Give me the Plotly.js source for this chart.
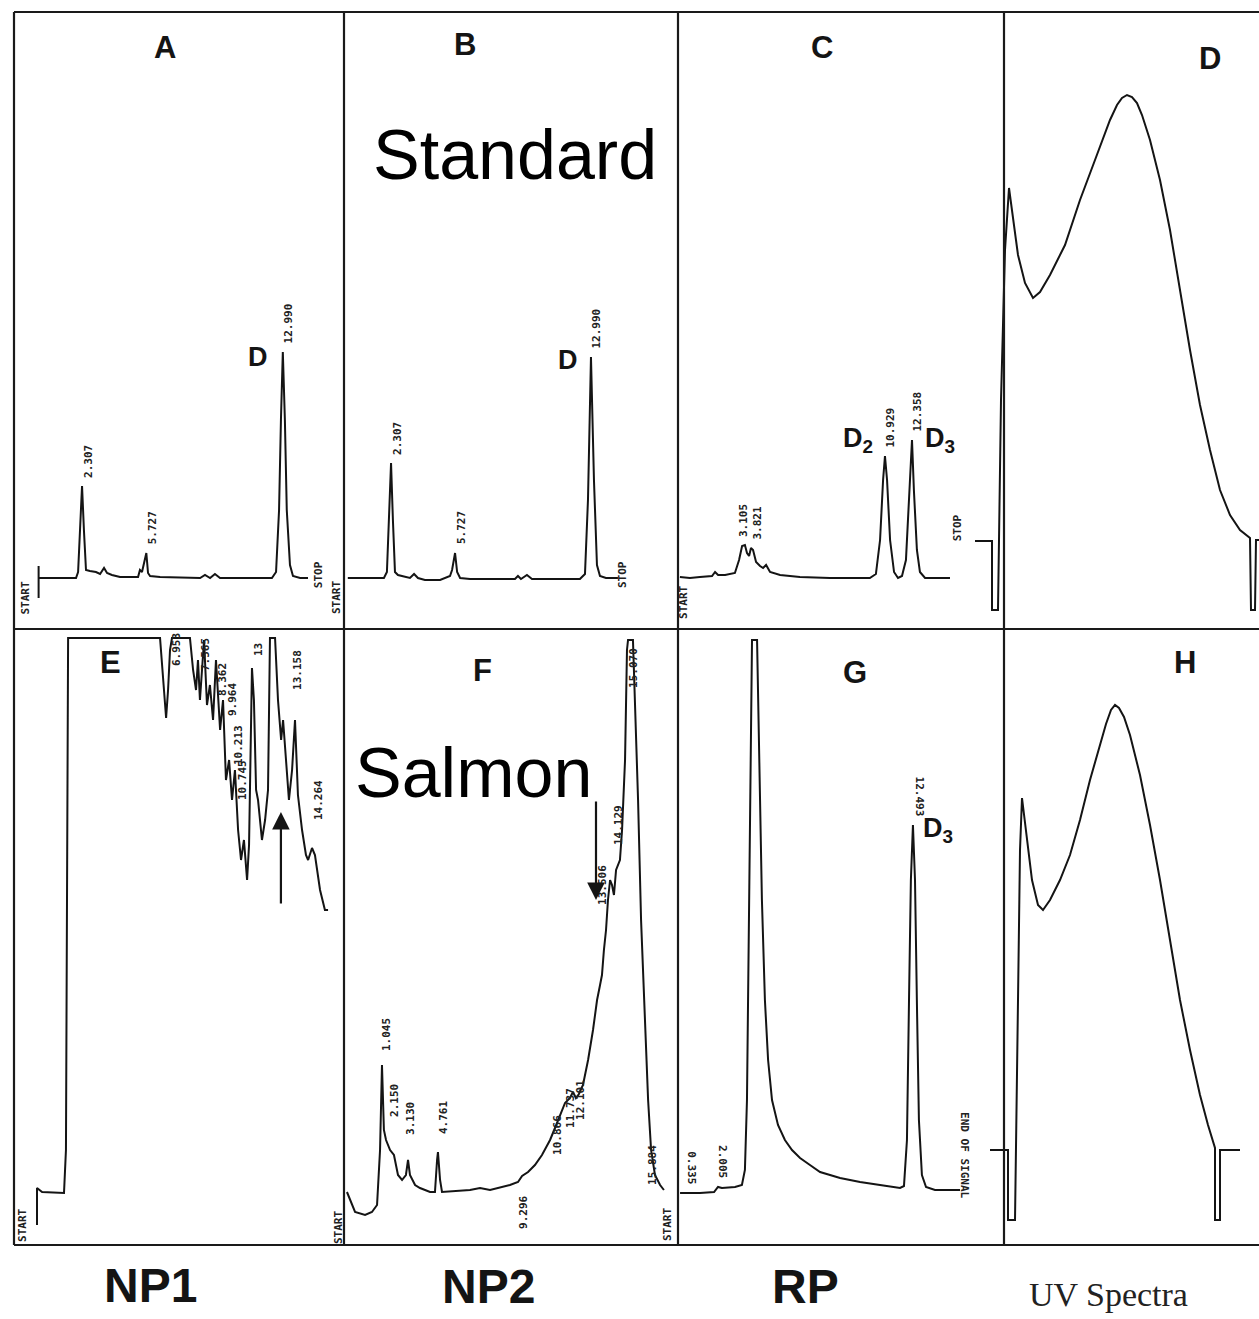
<!DOCTYPE html>
<html><head><meta charset="utf-8">
<script src="https://cdn.plot.ly/plotly-3.0.1.min.js"></script>
<style>html,body{margin:0;padding:0;background:#fff}#chart{width:1259px;height:1319px}</style>
</head><body><div id="chart"></div>
<script>
// ================= DATA =================
// Chromatograms: retention time (min) vs detector signal (arb. units above baseline)
// A - NP1, standard
const A_time   = [0.0,1.99,2.10,2.20,2.31,2.41,2.52,2.73,3.05,3.27,3.48,3.64,3.90,4.33,5.29,5.39,5.50,5.73,5.82,5.93,6.46,8.59,8.85,9.12,9.38,9.65,12.41,12.63,12.79,12.89,12.99,13.10,13.20,13.37,13.53,13.91,14.33];
const A_signal = [0,0,6,48,92,48,8,7,6,4,10,5,3,1,1,8,6,25,5,2,1,0,3,0,4,0,0,6,68,158,226,158,68,13,2,0,0];
const A_startTime = [0,0];
const A_startSignal = [12,-20];
const A_peakTime = [2.307,5.727,12.990];
const A_peakText = ["2.307","5.727","12.990"];
const A_markTime = [-0.75,14.87,15.82];
const A_markSignal = [-20,3,-20];
const A_markText = ["START","STOP","START"];

// B - NP2, standard
const B_time   = [0.0,1.93,2.09,2.20,2.31,2.41,2.52,2.68,2.90,3.32,3.54,3.75,4.12,4.93,5.46,5.57,5.73,5.84,6.00,6.53,8.93,9.09,9.25,9.57,9.84,12.40,12.67,12.83,12.99,13.15,13.31,13.47,13.79,14.43];
const B_signal = [0,0,6,58,115,58,6,3,2,0,4,0,-2,-2,2,8,25,6,0,-1,-1,2,-1,3,-1,-1,4,78,221,98,13,2,0,0];
const B_peakTime = [2.307,5.727,12.990];
const B_peakText = ["2.307","5.727","12.990"];
const B_markTime = [14.65];
const B_markSignal = [3];
const B_markText = ["STOP"];

// C - RP, standard
const C_time   = [0.08,0.61,1.14,1.78,1.94,2.10,2.47,2.99,3.21,3.37,3.52,3.63,3.74,3.84,3.95,4.11,4.32,4.48,4.64,4.85,5.38,6.43,8.02,10.13,10.45,10.67,10.83,10.93,11.04,11.20,11.41,11.62,11.83,12.04,12.20,12.36,12.46,12.62,12.78,13.05,14.37];
const C_signal = [1,0,1,2,6,3,3,5,18,32,33,25,22,30,28,16,12,10,13,6,3,1,0,0,4,38,98,122,98,38,6,0,2,18,78,138,88,28,6,0,0];
const C_peakTime = [3.105,3.821,10.929,12.358];
const C_peakText = ["3.105","3.821","10.929","12.358"];
const C_markTime = [0.24,14.76];
const C_markSignal = [-24,50];
const C_markText = ["START","STOP"];

// D - UV spectrum of standard: wavelength (nm) vs absorbance (mAU)
const D_wavelength = [172.8,186.4,186.4,191.2,193.6,196.8,200,203.2,207.2,212.8,219.2,224.8,232.8,244.8,256.8,268.8,280.8,286.4,290.4,294.4,298.4,302.4,306.4,312.8,320.8,328.8,336.8,344.8,352.8,360.8,368.8,376.8,384.8,392.8,393.6,396.8,397.6,400];
const D_absorbance = [69,69,0,0,210,360,422,390,355,327,312,318,335,365,410,450,490,505,512,515,513,507,495,470,430,380,320,260,205,160,120,95,80,72,0,0,70,70];

// E - NP1, salmon
const E_time   = [0,0,0.26,1.38,1.48,1.59,6.29,6.44,6.60,6.70,6.80,6.90,7.82,7.98,8.13,8.23,8.33,8.54,8.69,8.84,9.00,9.15,9.36,9.51,9.66,9.82,9.97,10.12,10.28,10.43,10.58,10.74,10.84,10.99,11.09,11.20,11.30,11.50,11.66,11.81,11.91,12.17,12.32,12.48,12.58,12.73,12.88,13.04,13.19,13.34,13.55,13.75,13.86,14.06,14.21,14.47,14.72,14.88];
const E_signal = [-33,4,0,-1,42,554,554,512,474,502,542,554,554,522,502,532,492,552,487,507,472,532,462,492,412,432,392,422,362,332,352,312,347,524,492,402,392,352,372,402,554,554,492,452,472,432,392,422,472,397,362,337,332,344,337,302,282,282];
const E_labelTime   = [7.11,8.59,9.46,9.97,10.28,10.48,11.30,13.29,14.37,-0.77,15.39];
const E_labelSignal = [542,537,512,492,447,412,542,522,392,-33,-36];
const E_labelText   = ["6.953","7.565","8.362","9.964","10.213","10.745","13","13.158","14.264","START","START"];
const E_arrowTime = 12.47, E_arrowHead = 380, E_arrowTail = 287;

// F - NP2, salmon
const F_time   = [-0.94,-0.48,0.09,0.48,0.77,0.94,1.05,1.16,1.28,1.51,1.73,1.96,2.19,2.41,2.53,2.64,2.93,3.21,3.78,4.06,4.18,4.23,4.35,4.46,6.05,6.62,7.19,8.32,8.78,9.01,9.35,9.74,10.14,10.60,10.88,11.16,11.45,11.73,11.90,12.07,12.24,12.47,12.76,13.04,13.27,13.44,13.55,13.66,13.78,13.89,14.01,14.12,14.23,14.35,14.57,14.69,14.86,14.97,15.03,15.31,15.43,15.60,15.77,16.00,16.17,16.34,16.56,16.85,17.07];
const F_signal = [0,-20,-23,-20,-13,42,127,62,52,42,37,17,12,17,32,17,7,4,0,0,32,40,12,0,2,4,2,7,10,16,20,27,37,52,64,77,89,94,100,94,98,107,132,162,192,207,217,242,262,292,312,307,297,322,332,362,432,542,552,552,492,392,272,162,92,42,17,7,2];
const F_labelTime   = [1.28,1.73,2.64,4.52,9.06,10.99,11.73,12.30,13.55,14.46,15.31,16.39,17.25];
const F_labelSignal = [157,92,74,74,-20,57,84,92,307,367,524,27,-33];
const F_labelText   = ["1.045","2.150","3.130","4.761","9.296","10.866","11.737","12.101","13.506","14.129","15.070","15.884","START"];
const F_arrowTime = 13.21, F_arrowHead = 292, F_arrowTail = 392;

// G - RP, salmon
const G_time   = [0.03,1.10,1.85,2.06,2.27,2.97,3.34,3.50,3.61,3.72,3.83,3.88,4.15,4.20,4.31,4.41,4.57,4.74,4.95,5.27,5.64,6.02,6.45,6.98,7.52,8.59,9.66,10.73,11.80,12.01,12.17,12.28,12.38,12.49,12.60,12.70,12.81,12.97,13.19,13.67,15.01];
const G_signal = [0,0,1,6,5,6,8,23,93,293,493,553,553,493,393,293,193,133,93,68,53,43,35,28,21,15,11,8,5,7,53,193,313,368,313,193,73,18,6,3,3];
const G_peakTime = [0.335,2.005,12.493];
const G_peakText = ["0.335","2.005","12.493"];
const G_markTime = [15.27];
const G_markSignal = [38];
const G_markText = ["END OF SIGNAL"];

// H - UV spectrum of salmon peak
const H_wavelength = [168,186,186,193,196,198,200,204,210,216,221,228,238,248,258,268,278,284,289,293,297,302,308,318,328,338,348,358,368,378,386,391,393,393,398,398,418];
const H_absorbance = [70,70,0,0,220,370,422,390,340,315,310,320,340,365,400,440,475,496,510,515,512,503,485,445,395,340,280,220,170,125,95,80,72,0,0,70,70];

// Compound labels (time, signal) in each panel
const cmpA = {t:11.67, s:221, text:"D"};
const cmpB = {t:11.76, s:218, text:"D"};
const cmpC = [{t:9.50, s:138, text:"D<sub>2</sub>"},{t:13.84, s:138, text:"D<sub>3</sub>"}];
const cmpG = {t:13.83, s:363, text:"D<sub>3</sub>"};

// ================= LAYOUT HELPERS =================
const W = 1259, H = 1319;
const PX = p => p / W;
const PY = p => 1 - p / H;
const INK = '#141414';

const panels = [
  {n:1, key:'A', xpx:[14,343],  ypx:[12,628],   xr:[-1.309,16.191], yr:[-50,566], x:A_time, y:A_signal, letter:[165,47]},
  {n:2, key:'B', xpx:[343,678], ypx:[12,628],   xr:[-0.256,17.639], yr:[-50,566], x:B_time, y:B_signal, letter:[465,45]},
  {n:3, key:'C', xpx:[678,1004],ypx:[12,628],   xr:[-0.021,17.228], yr:[-50,566], x:C_time, y:C_signal, letter:[822,47]},
  {n:4, key:'D', xpx:[970,1259],ypx:[12,628],   xr:[168.8,400],     yr:[-18,598], x:D_wavelength, y:D_absorbance, letter:[1210,58]},
  {n:5, key:'E', xpx:[14,345],  ypx:[629,1245], xr:[-1.176,15.746], yr:[-53,563], x:E_time, y:E_signal, letter:[110,662]},
  {n:6, key:'F', xpx:[345,678], ypx:[629,1245], xr:[-1.051,17.869], yr:[-53,563], x:F_time, y:F_signal, letter:[482,670]},
  {n:7, key:'G', xpx:[678,1004],ypx:[629,1245], xr:[-0.080,17.362], yr:[-52,564], x:G_time, y:G_signal, letter:[855,672]},
  {n:8, key:'H', xpx:[985,1259],ypx:[629,1245], xr:[163,437],       yr:[-25,591], x:H_wavelength, y:H_absorbance, letter:[1185,662]}
];

const ax = n => (n === 1 ? '' : String(n));
const traces = [];
const layout = {
  width: W, height: H, autosize: false,
  margin: {l:0, r:0, t:0, b:0, pad:0},
  paper_bgcolor: '#fff', plot_bgcolor: 'rgba(0,0,0,0)',
  showlegend: false, annotations: [], shapes: []
};

panels.forEach(p => {
  const s = ax(p.n);
  layout['xaxis' + s] = {domain:[PX(p.xpx[0]), PX(p.xpx[1])], range:p.xr, visible:false, fixedrange:true, anchor:'y' + s};
  layout['yaxis' + s] = {domain:[PY(p.ypx[1]), PY(p.ypx[0])], range:p.yr, visible:false, fixedrange:true, anchor:'x' + s};
  traces.push({type:'scatter', mode:'lines', x:p.x, y:p.y, xaxis:'x' + s, yaxis:'y' + s,
    line:{color:INK, width:2, shape:'linear'}, hoverinfo:'skip'});
  layout.annotations.push({xref:'paper', yref:'paper', x:PX(p.letter[0]), y:PY(p.letter[1]),
    text:'<b>' + p.key + '</b>', showarrow:false, xanchor:'center', yanchor:'middle',
    font:{family:'Liberation Sans, Arial, sans-serif', size:31, color:INK}});
});

// start tick of panel A
traces.push({type:'scatter', mode:'lines', x:A_startTime, y:A_startSignal, xaxis:'x', yaxis:'y',
  line:{color:INK, width:2}, hoverinfo:'skip'});

const LBL_FONT = {family:'DejaVu Sans Mono, Liberation Mono, monospace', size:11, color:'#222'};

function autoLabels(n, tArr, sArr, times, texts, angle) {
  const s = ax(n);
  times.forEach((t, i) => {
    let m = -1e9;
    tArr.forEach((tt, j) => { if (Math.abs(tt - t) <= 0.3 && sArr[j] > m) m = sArr[j]; });
    if (m < -1e8) m = 0;
    const half = texts[i].length * 3.4;
    layout.annotations.push({xref:'x' + s, yref:'y' + s, x:t, y:m + 8 + half, text:'<b>' + texts[i] + '</b>',
      textangle:angle, showarrow:false, xanchor:'center', yanchor:'middle', xshift:6, font:LBL_FONT});
  });
}
function placedLabels(n, times, sigs, texts, angle) {
  const s = ax(n);
  times.forEach((t, i) => {
    layout.annotations.push({xref:'x' + s, yref:'y' + s, x:t, y:sigs[i], text:'<b>' + texts[i] + '</b>',
      textangle:angle, showarrow:false, xanchor:'center', yanchor:'middle', font:LBL_FONT});
  });
}

autoLabels(1, A_time, A_signal, A_peakTime, A_peakText, -90);
placedLabels(1, A_markTime, A_markSignal, A_markText, -90);
autoLabels(2, B_time, B_signal, B_peakTime, B_peakText, -90);
placedLabels(2, B_markTime, B_markSignal, B_markText, -90);
autoLabels(3, C_time, C_signal, C_peakTime, C_peakText, -90);
placedLabels(3, C_markTime, C_markSignal, C_markText, -90);
placedLabels(5, E_labelTime, E_labelSignal, E_labelText, -90);
placedLabels(6, F_labelTime, F_labelSignal, F_labelText, -90);
autoLabels(7, G_time, G_signal, G_peakTime, G_peakText, 90);
placedLabels(7, G_markTime, G_markSignal, G_markText, 90);

// compound names
const CMP_FONT = {family:'Liberation Sans, Arial, sans-serif', size:27, color:INK};
[[1, cmpA], [2, cmpB], [3, cmpC[0]], [3, cmpC[1]], [7, cmpG]].forEach(([n, c]) => {
  const s = ax(n);
  layout.annotations.push({xref:'x' + s, yref:'y' + s, x:c.t, y:c.s, text:'<b>' + c.text + '</b>',
    showarrow:false, xanchor:'center', yanchor:'middle', font:CMP_FONT});
});

// arrows marking the target peak in the salmon runs
layout.annotations.push({xref:'x5', yref:'y5', axref:'x5', ayref:'y5', x:E_arrowTime, y:E_arrowHead,
  ax:E_arrowTime, ay:E_arrowTail, text:'', showarrow:true, arrowhead:2, arrowsize:1.6, arrowwidth:2.2, arrowcolor:INK});
layout.annotations.push({xref:'x6', yref:'y6', axref:'x6', ayref:'y6', x:F_arrowTime, y:F_arrowHead,
  ax:F_arrowTime, ay:F_arrowTail, text:'', showarrow:true, arrowhead:2, arrowsize:1.6, arrowwidth:2.2, arrowcolor:INK});

// large captions
const big = (px, py, text, font) => layout.annotations.push({xref:'paper', yref:'paper', x:PX(px), y:PY(py),
  text, showarrow:false, xanchor:'center', yanchor:'middle', font});
big(515, 155, 'Standard', {family:'Liberation Sans, Arial, sans-serif', size:70, color:'#000'});
big(473, 773, 'Salmon',   {family:'Liberation Sans, Arial, sans-serif', size:70, color:'#000'});
const capFont = {family:'Liberation Sans, Arial, sans-serif', size:48, color:INK};
big(150, 1285, '<b>NP1</b>', capFont);
big(488, 1286, '<b>NP2</b>', capFont);
big(806, 1286, '<b>RP</b>', capFont);
big(1108, 1294, 'UV Spectra', {family:'Liberation Serif, Times New Roman, serif', size:34, color:'#222'});

// panel frame
const line = (x0, y0, x1, y1) => layout.shapes.push({type:'line', xref:'paper', yref:'paper',
  x0:PX(x0), y0:PY(y0), x1:PX(x1), y1:PY(y1), line:{color:'#1a1a1a', width:2.2}});
line(14, 12, 1259, 12);
line(14, 629, 1259, 629);
line(14, 1245, 1259, 1245);
line(14, 12, 14, 1245);
line(344, 12, 344, 1245);
line(678, 12, 678, 1245);
line(1004, 12, 1004, 1245);

Plotly.newPlot('chart', traces, layout, {staticPlot:true, displayModeBar:false});
</script>
</body></html>
